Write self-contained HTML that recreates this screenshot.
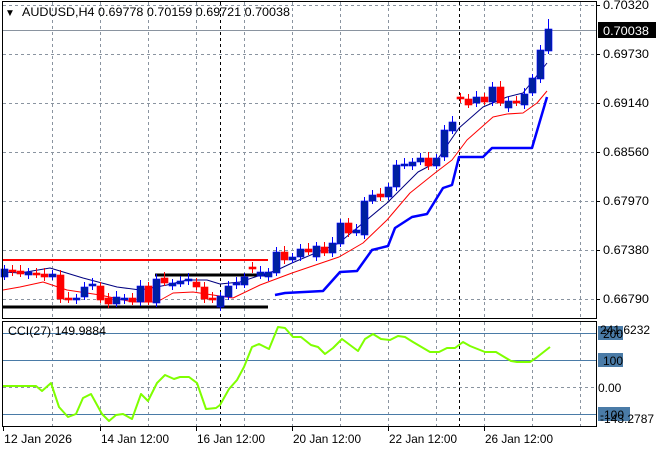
<!DOCTYPE html>
<html><head><meta charset="utf-8"><style>
html,body{margin:0;padding:0;background:#fff;}
svg{display:block;font-family:"Liberation Sans",sans-serif;}
</style></head><body>
<svg id="s" width="660" height="450" xmlns="http://www.w3.org/2000/svg">
<rect width="660" height="450" fill="#fff"/>
<g id="grid"></g>
<g id="lines"></g>
<g id="candles"></g>
<rect x="2.5" y="1.5" width="594" height="317" fill="none" stroke="#000"/>
<rect x="2.5" y="321.5" width="594" height="105" fill="none" stroke="#000"/>
<text x="5" y="16" font-size="10" fill="#000">▼</text>
<text x="22" y="16" font-size="12" fill="#000" textLength="268" lengthAdjust="spacingAndGlyphs">AUDUSD,H4  0.69778 0.70159 0.69721 0.70038</text>
<text x="8" y="335" font-size="12" fill="#000" textLength="98" lengthAdjust="spacingAndGlyphs">CCI(27) 149.9884</text>
<g id="axis" font-size="12" fill="#000"></g>
</svg>
<script>
var NS="http://www.w3.org/2000/svg";
function el(p,t,a,txt){var e=document.createElementNS(NS,t);for(var k in a)e.setAttribute(k,a[k]);if(txt!=null)e.textContent=txt;document.getElementById(p).appendChild(e);return e;}
[5,54,103,152,201,250,299].forEach(function(y){el('grid','line',{x1:3,x2:596,y1:y+.5,y2:y+.5,stroke:'#8a94a0','stroke-dasharray':'3,3'});});
for(var x=52;x<596;x+=48){el('grid','line',{x1:x+.5,x2:x+.5,y1:2,y2:318,stroke:'#8a94a0','stroke-dasharray':'3,3'});el('grid','line',{x1:x+.5,x2:x+.5,y1:322,y2:426,stroke:'#8a94a0','stroke-dasharray':'3,3'});}
[220,459].forEach(function(x){el('grid','line',{x1:x+.5,x2:x+.5,y1:2,y2:318,stroke:'#000','stroke-dasharray':'3,3'});el('grid','line',{x1:x+.5,x2:x+.5,y1:322,y2:426,stroke:'#000','stroke-dasharray':'3,3'});});
el('grid','line',{x1:3,x2:596,y1:30.5,y2:30.5,stroke:'#8a94a0'});
[[333,'#4a7ba7'],[360,'#4a7ba7'],[414,'#4a7ba7']].forEach(function(a){el('grid','line',{x1:3,x2:596,y1:a[0]+.5,y2:a[0]+.5,stroke:a[1]});});
el('grid','line',{x1:3,x2:596,y1:387.5,y2:387.5,stroke:'#8a94a0','stroke-dasharray':'3,3'});
el('lines','line',{x1:3,x2:268,y1:260,y2:260,stroke:'#f00','stroke-width':2});
el('lines','line',{x1:3,x2:268,y1:307,y2:307,stroke:'#000','stroke-width':3});
el('lines','line',{x1:155,x2:268,y1:275,y2:275,stroke:'#000','stroke-width':3});
function pl(pts,c,w){el('lines','polyline',{points:pts.map(function(p){return p.join(',')}).join(' '),fill:'none',stroke:c,'stroke-width':w,'stroke-linejoin':'round'});}
pl([[3,272],[20,273],[50,268],[60,271],[83,278],[117,287],[140,290],[167,285],[187,280],[207,280],[220,284],[240,282],[267,273],[275,271],[292,263],[339,243],[387,203],[418,172],[435,163],[459,128],[483,107],[507,97],[523,93],[547,63]],'#000080',1);
pl([[3,290],[20,287],[43,282],[67,290],[100,295],[133,302],[157,302],[173,293],[193,292],[213,295],[233,298],[260,285],[292,273],[339,257],[363,243],[387,220],[410,193],[435,173],[452,160],[467,140],[493,117],[507,114],[523,113],[537,103],[547,91]],'#f00',1);
pl([[275,295],[285,293],[323,291],[340,272],[357,271],[372,250],[388,246],[395,228],[412,217],[427,214],[443,188],[452,185],[459,157],[483,157],[492,148],[532,148],[547,97]],'#0000ff',2.5);
pl([[3,386],[36,386],[42,391],[51,383],[59,407],[68,417],[76,414],[83,398],[91,394],[102,414],[109,421],[116,415],[123,414],[132,419],[141,394],[148,401],[157,383],[165,375],[174,379],[180,377],[189,377],[197,383],[206,409],[216,408],[220,405],[229,389],[237,380],[244,367],[252,347],[259,344],[269,349],[278,327],[285,328],[293,337],[301,337],[311,345],[318,347],[325,354],[333,348],[342,339],[358,351],[365,339],[373,334],[381,339],[390,340],[398,336],[405,337],[413,342],[430,352],[439,352],[447,348],[455,348],[463,342],[470,346],[485,352],[496,352],[511,361],[517,362],[530,362],[536,358],[550,347]],'#7fff00',2);
var C=[[1,269,277],[0,270,272],[0,271,274],[1,272,275],[0,273,275],[0,274,277],[1,274,277],[0,275,299],[0,298,300],[1,298,300],[1,287,297],[1,284,286],[0,286,300],[0,298,304],[1,297,304],[1,298,300],[0,298,302],[1,286,302],[0,286,302],[1,279,303],[0,278,283],[1,283,286],[1,281,284],[1,279,281],[0,282,287],[0,287,299],[0,298,300],[1,296,307],[1,286,297],[1,283,285],[1,277,285],[0,267,269],[1,272,276],
[1,272,277],[1,252,273],[0,252,260],[1,257,260],[1,249,257],[0,249,252],[1,246,257],[0,247,253],[1,243,253],[1,223,244],[0,223,233],[1,230,233],[1,201,235],[1,195,201],[0,194,197],[1,187,197],[1,165,187],[1,164,166],[1,162,166],[1,158,162],[0,158,166],[1,158,166],[1,130,157],[1,122,131],[0,97,99],[0,99,105],[1,97,103],[0,97,102],[1,87,102],[0,87,103],[1,101,108],[0,101,103],[1,94,105],[1,78,93],[1,50,79],[1,29,51]];
C.forEach(function(c,i){var x=4+8*i;var wt=c[1]-4-(i%3),wb=c[2]+3+(i%2);if(i==68)wt=19;
el('candles','line',{x1:x+.5,x2:x+.5,y1:wt,y2:wb,stroke:c[0]?'#0000ff':'#f00'});
var h=Math.max(2,c[2]-c[1]);el('candles','rect',{x:x-3,y:c[1],width:7,height:h,fill:c[0]?'#0020a0':'#f00',stroke:c[0]?'#0000ff':'#f00','stroke-width':0.6});});
[[5,'0.70320'],[54,'0.69730'],[103,'0.69140'],[152,'0.68560'],[201,'0.67970'],[250,'0.67380'],[299,'0.66790']].forEach(function(a){el('axis','line',{x1:596,x2:600,y1:a[0]+.5,y2:a[0]+.5,stroke:'#000'});el('axis','text',{x:603,y:a[0]+4,textLength:46,lengthAdjust:'spacingAndGlyphs'},a[1]);});
el('axis','rect',{x:598,y:22,width:58,height:16,fill:'#000'});
el('axis','text',{x:603,y:35,fill:'#fff',textLength:46,lengthAdjust:'spacingAndGlyphs'},'0.70038');
[[333,'200'],[360,'100'],[414,'-100']].forEach(function(a){el('axis','rect',{x:598,y:a[0]-7,width:a[1].length*7+4,height:14,fill:'#4a7ba7'});});
el('axis','text',{x:603,y:365},'100');
el('axis','text',{x:598,y:392},'0.00');
el('axis','text',{x:603,y:338},'200');
el('axis','text',{x:600,y:419},'-100');
el('axis','text',{x:600,y:334},'241.6232');
el('axis','text',{x:600,y:423},'-143.2787');
[[3,'12 Jan 2026'],[100,'14 Jan 12:00'],[196,'16 Jan 12:00'],[292,'20 Jan 12:00'],[388,'22 Jan 12:00'],[484,'26 Jan 12:00']].forEach(function(a){el('axis','line',{x1:a[0]+.5,x2:a[0]+.5,y1:427,y2:431,stroke:'#000'});el('axis','text',{x:a[0]+1,y:443,textLength:68,lengthAdjust:'spacingAndGlyphs'},a[1]);});
</script>
</body></html>
